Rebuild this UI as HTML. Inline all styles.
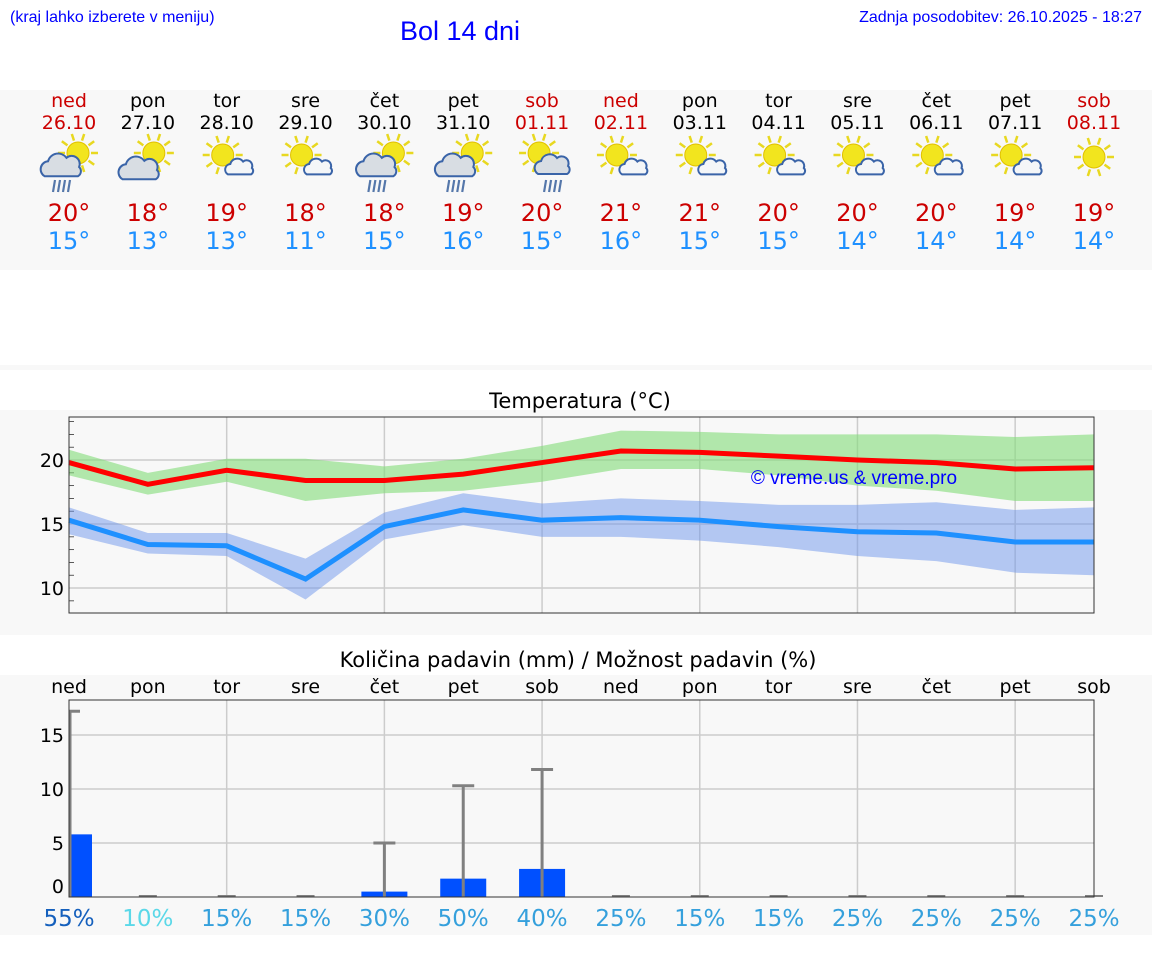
<!DOCTYPE html>
<html><head><meta charset="utf-8"><style>
body{margin:0;width:1152px;height:975px;background:#fff;font-family:"Liberation Sans","DejaVu Sans",sans-serif;overflow:hidden;position:relative}
svg{position:absolute;left:0;top:0}
</style></head><body>
<svg id="s" width="1152" height="975" font-family="DejaVu Sans, Liberation Sans, sans-serif"></svg>
<script>
const days=["ned","pon","tor","sre","čet","pet","sob","ned","pon","tor","sre","čet","pet","sob"];
const dates=["26.10","27.10","28.10","29.10","30.10","31.10","01.11","02.11","03.11","04.11","05.11","06.11","07.11","08.11"];
const redDay=[1,0,0,0,0,0,1,1,0,0,0,0,0,1];
const icons=["rain","cloud","small","small","rain","rain","rainR","small","small","small","small","small","small","sun"];
const hiT=[20,18,19,18,18,19,20,21,21,20,20,20,19,19];
const loT=[15,13,13,11,15,16,15,16,15,15,14,14,14,14];
const maxLine=[19.8,18.1,19.2,18.4,18.4,18.9,19.8,20.7,20.6,20.3,20.0,19.8,19.3,19.4];
const maxTop=[20.8,19.0,20.1,20.1,19.5,20.1,21.1,22.3,22.2,22.0,22.0,22.0,21.8,22.0];
const maxBot=[18.8,17.3,18.3,16.8,17.4,17.6,18.3,19.3,19.3,18.8,18.0,17.6,16.8,16.8];
const minLine=[15.3,13.4,13.3,10.7,14.8,16.1,15.3,15.5,15.3,14.8,14.4,14.3,13.6,13.6];
const minTop=[16.3,14.3,14.3,12.3,15.9,17.4,16.6,17.0,16.8,16.5,16.5,16.7,16.1,16.3];
const minBot=[14.2,12.7,12.5,9.1,13.8,14.9,14.0,14.0,13.7,13.2,12.5,12.1,11.2,11.0];
const tempTicks=[10,15,20];
const precip=[5.8,0,0,0,0.5,1.7,2.6,0,0,0,0,0,0,0];
const precipMax=[17.2,0,0,0,5.0,10.3,11.8,0,0,0,0,0,0,0];
const chance=[55,10,15,15,30,50,40,25,15,15,25,25,25,25];
const precipTicks=[0,5,10,15];
const NS="http://www.w3.org/2000/svg";
const s=document.getElementById('s');
function el(t,a,p){const e=document.createElementNS(NS,t);for(const k in a)e.setAttribute(k,a[k]);(p||s).appendChild(e);return e;}
function tx(x,y,str,a){const e=el('text',Object.assign({x:x,y:y,'text-anchor':'middle'},a));e.textContent=str;return e;}
const X0=69,X1=1094,dx=(X1-X0)/13;
const xd=i=>X0+i*dx;
let b;
b=el('rect',{x:0,y:90,width:1152,height:180,fill:'#f8f8f8'});
el('rect',{x:0,y:365,width:1152,height:5,fill:'#f8f8f8'});
b=el('rect',{x:0,y:410,width:1152,height:225,fill:'#f8f8f8'});
b=el('rect',{x:0,y:675,width:1152,height:260,fill:'#f8f8f8'});
let t;
t=tx(10,22,'(kraj lahko izberete v meniju)',{'text-anchor':'start',fill:'#0000ff','font-size':16,'font-family':'Liberation Sans, sans-serif'});
t=tx(460,40,'Bol 14 dni',{fill:'#0000ff','font-size':27,'font-family':'Liberation Sans, sans-serif'});
t=tx(1142,22,'Zadnja posodobitev: 26.10.2025 - 18:27',{'text-anchor':'end',fill:'#0000ff','font-size':16,'font-family':'Liberation Sans, sans-serif'});
function sun(g,cx,cy,r){for(let k=0;k<10;k++){const a=k*Math.PI/5;el('line',{x1:cx+Math.cos(a)*(r+2),y1:cy+Math.sin(a)*(r+2),x2:cx+Math.cos(a)*(r+9),y2:cy+Math.sin(a)*(r+9),stroke:'#e8d820','stroke-width':2.5},g);}el('circle',{cx:cx,cy:cy,r:r,fill:'#f2e51e',stroke:'#e0c000','stroke-width':1},g);}
function cloud(g,cx,cy,sc){el('path',{d:`M${cx-16*sc},${cy+8*sc} a${7*sc},${7*sc} 0 0 1 ${3*sc},${-13*sc} a${9*sc},${9*sc} 0 0 1 ${16*sc},${-3*sc} a${7*sc},${7*sc} 0 0 1 ${11*sc},${8*sc} a${5*sc},${5*sc} 0 0 1 ${-1*sc},${8*sc} z`,fill:sc>0.8?'#d8dde3':'#f4f6f8',stroke:'#3a64a8','stroke-width':2},g);}
function rain(g,cx,cy){for(let k=0;k<4;k++)el('line',{x1:cx+k*5,y1:cy,x2:cx+k*5-2,y2:cy+12,stroke:'#5577aa','stroke-width':2.2},g);}
for(let i=0;i<14;i++){
  const x=xd(i);const col=redDay[i]?'#cc0000':'#000';
  t=tx(x,107,days[i],{fill:col,'font-size':19});
  t=tx(x,129,dates[i],{fill:col,'font-size':19});
  const g=el('g',{});
  const ic=icons[i];
  if(ic=='sun'){sun(g,x,157,11);}
  else if(ic=='small'){sun(g,x-4,155,11);cloud(g,x+14,168,0.8);}
  else if(ic=='cloud'){sun(g,x+6,153,11);cloud(g,x-7,170,1.15);}
  else if(ic=='rain'){sun(g,x+9,153,11);cloud(g,x-6,167,1.15);rain(g,x-14,180);}
  else {sun(g,x-3,153,11);cloud(g,x+12,166,1);rain(g,x+4,180);}
  t=tx(x,221,hiT[i]+'°',{fill:'#cc0000','font-size':24});
  t=tx(x,249,loT[i]+'°',{fill:'#1e90ff','font-size':24});
}
const TY0=417,TY1=613,tmin=8.05,tmax=23.36;
const ty=v=>TY1-(v-tmin)/(tmax-tmin)*(TY1-TY0);
t=tx(580,408,'Temperatura (°C)',{'font-size':21});
el('rect',{x:X0,y:TY0,width:X1-X0,height:TY1-TY0,fill:'#f8f8f8'});
for(let i=2;i<13;i+=2)el('line',{x1:xd(i),y1:TY0,x2:xd(i),y2:TY1,stroke:'#ccc','stroke-width':1.5});
for(let v=9;v<=23;v++){el('line',{x1:X0,y1:ty(v),x2:X0+5,y2:ty(v),stroke:'#333','stroke-width':0.8});}
tempTicks.forEach(v=>{el('line',{x1:X0,y1:ty(v),x2:X1,y2:ty(v),stroke:'#ccc','stroke-width':1.5});t=tx(X0-5,ty(v)+7,String(v),{'text-anchor':'end','font-size':19});});
function band(top,bot,fill,name){let d='M'+top.map((v,i)=>xd(i)+','+ty(v)).join('L');for(let i=bot.length-1;i>=0;i--)d+='L'+xd(i)+','+ty(bot[i]);const p=el('path',{d:d+'Z',fill:fill});}
function line(arr,c,name){const p=el('polyline',{points:arr.map((v,i)=>xd(i)+','+ty(v)).join(' '),fill:'none',stroke:c,'stroke-width':5});}
band(maxTop,maxBot,'rgba(130,220,120,0.6)','max-temp-range');
band(minTop,minBot,'rgba(110,150,235,0.5)','min-temp-range');
line(maxLine,'#ff0000','max-temp-line');
line(minLine,'#1e90ff','min-temp-line');
t=tx(854,484,'© vreme.us & vreme.pro',{fill:'#0000ff','font-size':19,'font-family':'Liberation Sans, sans-serif'});
el('rect',{x:X0,y:TY0,width:X1-X0,height:TY1-TY0,fill:'none',stroke:'#333','stroke-width':1});
const PY0=700,PY1=897,pmax=(PY1-PY0)/10.8;
const py=v=>PY1-v/pmax*(PY1-PY0);
t=tx(578,667,'Količina padavin (mm) / Možnost padavin (%)',{'font-size':21});
el('rect',{x:X0,y:PY0,width:X1-X0,height:PY1-PY0,fill:'#f8f8f8'});
for(let i=2;i<13;i+=2)el('line',{x1:xd(i),y1:PY0,x2:xd(i),y2:PY1,stroke:'#ccc','stroke-width':1.5});
precipTicks.forEach(v=>{if(v>0)el('line',{x1:X0,y1:py(v),x2:X1,y2:py(v),stroke:'#ccc','stroke-width':1.5});t=tx(X0-5,py(v)+(v==0?-4:7),String(v),{'text-anchor':'end','font-size':19});});
for(let i=0;i<14;i++){
  const x=xd(i);
  t=tx(x,693,days[i],{'font-size':19});
  if(precip[i]>0){const w=46,x0=Math.max(X0,x-w/2),x1=Math.min(X1,x+w/2);const r=el('rect',{x:x0,y:py(precip[i]),width:x1-x0,height:PY1-py(precip[i]),fill:'#0050ff'});}
  if(precipMax[i]>0){const g=el('g',{});
    el('line',{x1:x+(i==0?1:0),y1:py(precipMax[i]),x2:x+(i==0?1:0),y2:PY1,stroke:'#808080','stroke-width':3},g);
    el('line',{x1:Math.max(X0,x-11),y1:py(precipMax[i]),x2:x+11,y2:py(precipMax[i]),stroke:'#808080','stroke-width':3},g);}
  else el('line',{x1:x-9,y1:PY1-1,x2:x+9,y2:PY1-1,stroke:'#808080','stroke-width':2});
  const pc=['#1560bd','#5bd8e8'][i]||'#35a0dc';
  t=tx(x,926,chance[i]+'%',{fill:pc,'font-size':23});
}
el('rect',{x:X0,y:PY0,width:X1-X0,height:PY1-PY0,fill:'none',stroke:'#333','stroke-width':1});
</script>
</body></html>
